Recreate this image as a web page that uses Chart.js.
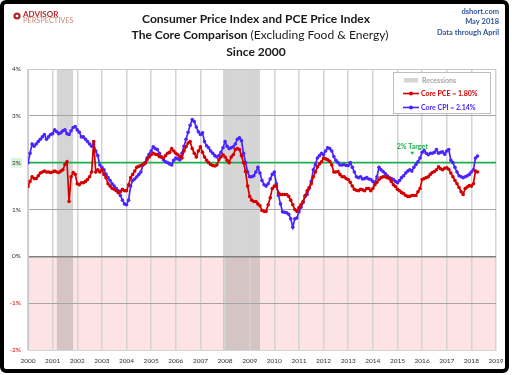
<!DOCTYPE html>
<html>
<head>
<meta charset="utf-8">
<script src="https://cdn.jsdelivr.net/npm/chart.js@4.4.1/dist/chart.umd.min.js"></script>
<style>
  html, body { margin: 0; padding: 0; background: #fff; }
  canvas { display: block; }
</style>
</head>
<body>
<canvas id="chart" width="512" height="375"></canvas>
<script>
// monthly year-over-year %, Jan 2000 .. Apr 2018
const startYear = 2000;
const coreCpi = [
  2.0, 2.2, 2.4, 2.35, 2.4, 2.45, 2.5, 2.55, 2.6, 2.5, 2.55, 2.6,
  2.62, 2.7, 2.66, 2.62, 2.64, 2.68, 2.7, 2.62, 2.6, 2.68, 2.75, 2.77,
  2.7, 2.65, 2.55, 2.55, 2.5, 2.45, 2.4, 2.35, 2.4, 2.25, 2.15, 1.95,
  1.9, 1.85, 1.75, 1.68, 1.62, 1.55, 1.5, 1.45, 1.4, 1.3, 1.2, 1.12,
  1.1, 1.2, 1.5, 1.62, 1.65, 1.7, 1.75, 1.8, 1.95, 2.0, 2.1, 2.18,
  2.25, 2.34, 2.3, 2.28, 2.2, 2.12, 2.06, 2.02, 2.0, 1.97, 1.95, 2.05,
  2.1, 2.08, 2.06, 2.2, 2.35, 2.5, 2.65, 2.8, 2.92, 2.88, 2.76, 2.66,
  2.6, 2.64, 2.45, 2.36, 2.32, 2.25, 2.2, 2.15, 2.12, 2.15, 2.22, 2.32,
  2.45, 2.35, 2.3, 2.32, 2.34, 2.4, 2.5, 2.53, 2.47, 2.2, 2.0, 1.8,
  1.7, 1.7, 1.72, 1.8, 1.9, 1.78, 1.62, 1.53, 1.5, 1.55, 1.65, 1.75,
  1.8, 1.55, 1.3, 1.12, 0.95, 0.94, 0.93, 0.9, 0.8, 0.62, 0.8, 0.82,
  0.95, 1.05, 1.15, 1.28, 1.32, 1.45, 1.6, 1.85, 1.96, 2.1, 2.15, 2.2,
  2.17, 2.25, 2.32, 2.3, 2.25, 2.13, 2.05, 2.0, 1.95, 1.95, 1.96, 1.94,
  1.94, 2.0, 1.9, 1.8, 1.7, 1.68, 1.7, 1.65, 1.66, 1.68, 1.65, 1.64,
  1.6, 1.57, 1.7, 1.9, 1.85, 1.81, 1.77, 1.72, 1.68, 1.66, 1.64, 1.6,
  1.57, 1.62, 1.68, 1.72, 1.78, 1.82, 1.85, 1.82, 1.9, 1.96, 2.02, 2.1,
  2.22, 2.26, 2.2, 2.17, 2.2, 2.2, 2.22, 2.28, 2.2, 2.22, 2.23, 2.18,
  2.25, 2.28, 2.05, 2.0, 1.9, 1.8, 1.72, 1.7, 1.68, 1.7, 1.72, 1.75,
  1.8, 1.85, 2.1, 2.14
];
const corePce = [
  1.49, 1.6, 1.7, 1.66, 1.66, 1.72, 1.78, 1.8, 1.82, 1.8, 1.8, 1.79,
  1.8, 1.82, 1.8, 1.79, 1.82, 1.85, 1.96, 2.02, 1.17, 1.7, 1.79, 1.75,
  1.55, 1.53, 1.57, 1.57, 1.6, 1.64, 1.7, 1.8, 2.45, 1.8, 1.85, 1.8,
  1.85, 1.75, 1.68, 1.55, 1.5, 1.45, 1.43, 1.4, 1.36, 1.38, 1.43, 1.4,
  1.4, 1.53, 1.68, 1.75, 1.82, 1.9, 1.92, 1.94, 1.96, 1.98, 2.06, 2.12,
  2.17, 2.2, 2.18, 2.17, 2.13, 2.12, 2.1, 2.15, 2.2, 2.22, 2.3, 2.25,
  2.2, 2.17, 2.13, 2.1, 2.25, 2.34, 2.42, 2.45, 2.3, 2.2, 2.12, 2.25,
  2.34, 2.22, 2.12, 2.05, 2.0, 1.96, 1.94, 1.93, 1.95, 2.06, 2.12, 2.17,
  2.12, 2.05, 2.0, 2.12, 2.17, 2.28, 2.3, 2.28, 2.15, 2.0, 1.81, 1.5,
  1.28, 1.2, 1.17, 1.17, 1.12, 1.08, 0.98, 0.96, 0.96, 1.1, 1.25, 1.45,
  1.5, 1.5, 1.35, 1.32, 1.32, 1.32, 1.32, 1.28, 1.2, 1.1, 1.0, 0.96,
  1.04, 1.1, 1.17, 1.3, 1.4, 1.47, 1.55, 1.7, 1.8, 1.91, 1.97, 2.02,
  2.1, 2.08, 2.06, 2.03, 1.95, 1.8, 1.8, 1.81, 1.75, 1.7, 1.7, 1.66,
  1.64, 1.58, 1.5, 1.43, 1.41, 1.4, 1.43, 1.42, 1.4, 1.45, 1.45, 1.4,
  1.45, 1.53, 1.58, 1.64, 1.68, 1.7, 1.7, 1.68, 1.66, 1.6, 1.53, 1.49,
  1.43, 1.4, 1.36, 1.34, 1.3, 1.28, 1.28, 1.3, 1.3, 1.3, 1.38, 1.45,
  1.64, 1.66, 1.68, 1.7, 1.75, 1.79, 1.81, 1.85, 1.91, 1.87, 1.85, 1.88,
  1.89, 1.86, 1.78, 1.7, 1.62, 1.55, 1.47, 1.38, 1.32, 1.45, 1.48, 1.51,
  1.5, 1.55, 1.82, 1.8
];
const yearTicks = [2000, 2001, 2002, 2003, 2004, 2005, 2006, 2007, 2008, 2009,
  2010, 2011, 2012, 2013, 2014, 2015, 2016, 2017, 2018, 2019];
const pctTicks = [-2, -1, 0, 1, 2, 3, 4];
const recessions = [[2001.17, 2001.83], [2007.92, 2009.42]];
const targetRate = 2;
const latestPce = '1.80%';
const latestCpi = '2.14%';

const RED = '#d40000';
const BLUE = '#4b24ff';
const GREEN = '#1fae4b';
const FONT = 'Lato, "Open Sans", sans-serif';

const toPoints = (arr) => arr.map((v, i) => ({ x: startYear + i / 12, y: v }));

function fitFont(ctx, text, weight, width) {
  ctx.font = `${weight} 20px ${FONT}`;
  const size = (20 * width) / ctx.measureText(text).width;
  return `${weight} ${size.toFixed(2)}px ${FONT}`;
}

const backdrop = {
  id: 'backdrop',
  beforeDraw(chart) {
    const { ctx, chartArea: a, scales: { x, y } } = chart;
    ctx.save();
    ctx.fillStyle = '#fff';
    ctx.fillRect(0, 0, chart.width, chart.height);
    // deflation zone
    ctx.fillStyle = '#fde3e3';
    ctx.fillRect(a.left, y.getPixelForValue(0), a.right - a.left, y.getPixelForValue(-2) - y.getPixelForValue(0));
    // recessions
    ctx.fillStyle = 'rgba(150,150,150,0.4)';
    recessions.forEach(([s, e]) => {
      const x0 = x.getPixelForValue(s);
      ctx.fillRect(x0, a.top, x.getPixelForValue(e) - x0, a.bottom - a.top);
    });
    ctx.restore();
  },
  beforeDatasetsDraw(chart) {
    const { ctx, chartArea: a, scales: { y } } = chart;
    const ty = y.getPixelForValue(targetRate);
    ctx.save();
    ctx.strokeStyle = GREEN;
    ctx.lineWidth = 1.6;
    ctx.beginPath();
    ctx.moveTo(a.left, ty);
    ctx.lineTo(a.right, ty);
    ctx.stroke();
    ctx.restore();
  },
  afterDraw(chart) {
    const { ctx, scales: { x, y } } = chart;
    ctx.save();
    ctx.textBaseline = 'middle';

    // titles
    ctx.fillStyle = '#1a1a1a';
    ctx.textAlign = 'center';
    const t1 = 'Consumer Price Index and PCE Price Index';
    ctx.font = fitFont(ctx, t1, 'bold', 228);
    ctx.fillText(t1, 256, 19);
    const size1 = parseFloat(ctx.font.match(/([\d.]+)px/)[1]);

    const t2a = 'The Core Comparison ';
    const t2b = '(Excluding Food & Energy)';
    const fa = `bold ${size1}px ${FONT}`;
    const fb = `normal ${size1}px ${FONT}`;
    ctx.font = fa; const wa = ctx.measureText(t2a).width;
    ctx.font = fb; const wb = ctx.measureText(t2b).width;
    const sx = 260 - (wa + wb) / 2;
    ctx.textAlign = 'left';
    ctx.font = fa; ctx.fillText(t2a, sx, 35);
    ctx.font = fb; ctx.fillText(t2b, sx + wa, 35);
    ctx.textAlign = 'center';
    ctx.font = fa; ctx.fillText('Since 2000', 256, 52);

    // source block
    ctx.textAlign = 'right';
    ctx.fillStyle = '#2f5597';
    ctx.font = `bold 7.5px ${FONT}`;
    ctx.fillText('dshort.com', 499, 12);
    ctx.fillText('May 2018', 499, 22);
    ctx.fillText('Data through April', 499, 33);

    // logo
    ctx.fillStyle = '#b3282d';
    ctx.beginPath();
    ctx.arc(17, 16, 3.6, 0, Math.PI * 2);
    ctx.fill();
    ctx.fillStyle = '#fff';
    ctx.beginPath();
    ctx.arc(17, 16, 1.3, 0, Math.PI * 2);
    ctx.fill();
    ctx.textAlign = 'left';
    ctx.fillStyle = '#b3282d';
    ctx.font = `bold 8px ${FONT}`;
    ctx.fillText('ADVISOR', 23, 14);
    ctx.fillStyle = '#c98a78';
    ctx.font = `normal 7.4px ${FONT}`;
    ctx.fillText('PERSPECTIVES', 23, 20.5);

    // legend
    ctx.fillStyle = '#fff';
    ctx.fillRect(393, 72, 97, 41);
    ctx.strokeStyle = '#bfbfbf';
    ctx.lineWidth = 1;
    ctx.strokeRect(393.5, 72.5, 97, 41);
    ctx.fillStyle = '#d4d4d4';
    ctx.fillRect(404, 78, 14, 4.5);
    ctx.font = `bold 7px ${FONT}`;
    ctx.fillStyle = '#a6a6a6';
    ctx.fillText('Recessions', 422, 80.5);
    [[RED, `Core PCE = ${latestPce}`, 93.5], [BLUE, `Core CPI = ${latestCpi}`, 107.5]].forEach(([c, label, ly]) => {
      ctx.strokeStyle = c;
      ctx.lineWidth = 1.6;
      ctx.beginPath();
      ctx.moveTo(403, ly);
      ctx.lineTo(419, ly);
      ctx.stroke();
      ctx.fillStyle = c;
      ctx.beginPath();
      ctx.arc(411, ly, 2, 0, Math.PI * 2);
      ctx.fill();
      ctx.fillText(label, 421, ly + 0.5);
    });

    // target note
    const ax = x.getPixelForValue(2015.6);
    const ay = y.getPixelForValue(targetRate);
    ctx.fillStyle = GREEN;
    ctx.textAlign = 'center';
    ctx.font = `bold 7px ${FONT}`;
    ctx.fillText('2% Target', ax, ay - 16);
    ctx.beginPath();
    ctx.moveTo(ax - 2, ay - 11);
    ctx.lineTo(ax + 2, ay - 11);
    ctx.lineTo(ax, ay - 8);
    ctx.closePath();
    ctx.fill();

    // frame
    ctx.strokeStyle = '#000';
    ctx.lineWidth = 4;
    ctx.beginPath();
    ctx.roundRect(2, 2, 505, 369, 4);
    ctx.stroke();
    ctx.restore();
  }
};

new Chart(document.getElementById('chart'), {
  type: 'line',
  data: {
    datasets: [
      {
        label: 'Core PCE',
        data: toPoints(corePce),
        borderColor: RED,
        backgroundColor: RED,
        borderWidth: 1.7,
        pointRadius: 1.8,
        pointBorderWidth: 0,
        pointBackgroundColor: RED,
        tension: 0,
      },
      {
        label: 'Core CPI',
        data: toPoints(coreCpi),
        borderColor: BLUE,
        backgroundColor: BLUE,
        borderWidth: 1.7,
        pointRadius: 1.8,
        pointBorderWidth: 0,
        pointBackgroundColor: BLUE,
        tension: 0,
      },
    ],
  },
  options: {
    responsive: false,
    animation: false,
    layout: { padding: { top: 69, right: 16, left: 0, bottom: 0 } },
    plugins: { legend: { display: false }, tooltip: { enabled: false } },
    scales: {
      x: {
        type: 'linear',
        min: 2000,
        max: 2019,
        afterBuildTicks: (s) => { s.ticks = yearTicks.map((v) => ({ value: v })); },
        afterFit: (s) => { s.height = 25; },
        ticks: {
          color: '#333',
          font: { family: FONT, size: 6.5 },
          padding: 7,
          maxRotation: 0,
          autoSkip: false,
          callback: (v) => String(v),
        },
        grid: { color: '#d4d4d4', lineWidth: 1.5, drawTicks: false },
        border: { color: '#d4d4d4' },
      },
      y: {
        min: -2,
        max: 4,
        afterBuildTicks: (s) => { s.ticks = pctTicks.map((v) => ({ value: v })); },
        afterFit: (s) => { s.width = 28; },
        ticks: {
          color: (c) => (c.tick && c.tick.value < 0 ? '#e00000' : '#333'),
          font: { family: FONT, size: 6.5 },
          padding: 7,
          callback: (v) => v + '%',
          showLabelBackdrop: (c) => c.tick && c.tick.value === 2,
          backdropColor: '#d9f5d9',
          backdropPadding: 1,
        },
        grid: {
          drawTicks: false,
          color: (c) => (c.tick && c.tick.value === 0 ? '#808080' : c.tick && c.tick.value === 4 ? '#c8c8c8' : '#a6a6a6'),
          lineWidth: (c) => (c.tick && c.tick.value === 0 ? 1.6 : 1),
        },
        border: { color: '#c8c8c8' },
      },
    },
  },
  plugins: [backdrop],
});
</script>
</body>
</html>
